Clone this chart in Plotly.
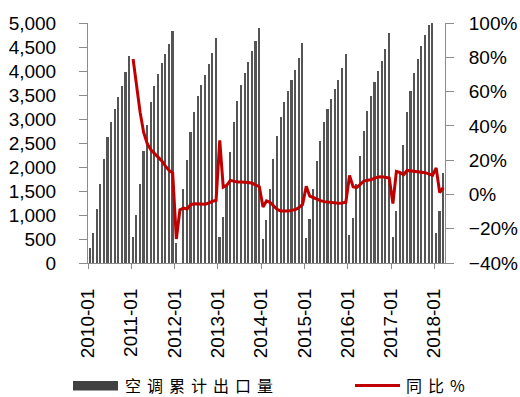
import plotly.graph_objects as go

# ---------------- data ----------------
years = [2010, 2011, 2012, 2013, 2014, 2015, 2016, 2017, 2018]
months = [f"{y}-{m:02d}-01" for y in years for m in range(1, 13)][:99]  # 2010-01 .. 2018-03

export_2010 = [304, 616, 1120, 1653, 2172, 2628, 2946, 3209, 3451, 3693, 3970, 4305]
export_2011 = [546, 990, 1655, 2324, 2885, 3361, 3692, 3937, 4165, 4355, 4560, 4840]
export_2012 = [410, None, 1549, 2137, 2722, 3140, 3486, 3714, 3918, 4146, 4382, 4693]
export_2013 = [546, 955, 1620, 2310, 2932, 3382, 3710, 3960, 4195, 4419, 4620, 4888]
export_2014 = [495, 905, 1549, 2172, 2640, 3050, 3355, 3589, 3815, 4030, 4267, 4575]
export_2015 = [515, 908, 1532, 2130, 2552, 2932, 3209, 3410, 3630, 3822, 4055, 4357]
export_2016 = [581, 940, 1653, 2235, 2760, 3174, 3486, 3762, 4004, 4212, 4454, 4786]
export_2017 = [540, 1075, 1880, 2465, 3140, 3589, 3960, 4255, 4515, 4745, 4960, 4990]
export_2018 = [616, 1075, 1874]
exports = (export_2010 + export_2011 + export_2012 + export_2013 + export_2014
           + export_2015 + export_2016 + export_2017 + export_2018)

yoy_2011 = [79, 63, 48, 36, 29.5, 26, 24, 22, 19.5, 16.5, 14, 12.5]
yoy_2012 = [-26, -9, -8, -8.5, -6, -5.5, -5.7, -5.8, -5.7, -5, -4, -3.5]
yoy_2013 = [31.5, 4.3, 5.3, 8.2, 7.6, 7.2, 7.2, 7.2, 7.0, 6.5, 5.5, 4.5]
yoy_2014 = [-7.3, -3.8, -4.6, -6.5, -8.8, -9.6, -9.7, -9.6, -9.3, -8.8, -7.7, -5.8]
yoy_2015 = [4.7, -1.0, -1.8, -2.8, -3.6, -4.2, -4.5, -4.8, -5.0, -5.1, -5.0, -4.6]
yoy_2016 = [11.0, 4.5, 4.0, 5.8, 7.8, 8.3, 8.6, 9.5, 10.2, 10.3, 10.0, 9.6]
yoy_2017 = [-5.3, 13.4, 12.8, 11.5, 14.0, 13.8, 13.6, 13.4, 13.0, 12.7, 12.0, 11.1]
yoy_2018 = [15.4, 1.1, 4.0]
yoy = (yoy_2011 + yoy_2012 + yoy_2013 + yoy_2014 + yoy_2015
       + yoy_2016 + yoy_2017 + yoy_2018)
yoy_months = months[12:]

bar_name = "空调累计出口量"
line_name = "同比%"

# ---------------- figure ----------------
W, H = 520, 397
L, R, T, B = 88, 445, 23, 263  # plot area in pixels

def px_x(p):
    return (p - L) / (R - L)

def px_y(p):
    return (B - p) / (B - T)

FONT = "Liberation Sans, Arial, sans-serif"
AX = "#8c8c8c"

fig = go.Figure()
fig.add_trace(go.Bar(
    x=months, y=exports, name=bar_name,
    xperiod="M1", xperiodalignment="middle",
    width=14 * 86400000,
    marker=dict(color="#555555", line=dict(width=0)),
    showlegend=False,
))
fig.add_trace(go.Scatter(
    x=yoy_months, y=yoy, name=line_name, yaxis="y2",
    xperiod="M1", xperiodalignment="middle",
    mode="lines", line=dict(color="#C00000", width=3),
    showlegend=False,
))

fig.update_layout(
    width=W, height=H,
    margin=dict(l=L, r=W - R, t=T, b=H - B, autoexpand=False),
    plot_bgcolor="white", paper_bgcolor="white",
    font=dict(family=FONT, size=19, color="#000000"),
    bargap=0,
    xaxis=dict(
        type="date", automargin=False,
        range=["2010-01-01", "2018-04-01"],
        tick0="2010-01-01", dtick="M12", tickformat="%Y-%m",
        tickangle=-90,
        showline=True, linecolor=AX, linewidth=1,
        ticks="outside", ticklen=5, tickcolor=AX,
        showgrid=False, zeroline=False,
        ticklabelstandoff=12,
        tickfont=dict(size=19),
    ),
    yaxis=dict(
        automargin=False,
        range=[0, 5000], dtick=500, tickformat=",d",
        showline=True, linecolor=AX, linewidth=1,
        ticks="outside", ticklen=8, tickcolor=AX,
        showgrid=False, zeroline=False,
        ticklabelstandoff=19,
    ),
    yaxis2=dict(
        automargin=False,
        overlaying="y", side="right",
        range=[-40, 100], dtick=20, ticksuffix="%",
        showline=True, linecolor=AX, linewidth=1,
        ticks="outside", ticklen=8, tickcolor=AX,
        showgrid=False, zeroline=False,
        ticklabelstandoff=11,
    ),
)

# custom legend (wide swatches like the reference)
legend_y = 385.5
spaced = '<span style="letter-spacing:6px">{}</span>'
fig.add_shape(type="rect", xref="paper", yref="paper",
              x0=px_x(73), x1=px_x(118), y0=px_y(381), y1=px_y(390.5),
              fillcolor="#404040", line=dict(width=0))
fig.add_annotation(xref="paper", yref="paper", x=px_x(123), y=px_y(legend_y),
                   text=spaced.format(bar_name), showarrow=False,
                   xanchor="left", yanchor="middle",
                   font=dict(family="Noto Sans CJK SC", size=16, color="#000000"))
fig.add_shape(type="line", xref="paper", yref="paper",
              x0=px_x(355), x1=px_x(400), y0=px_y(legend_y), y1=px_y(legend_y),
              line=dict(color="#C00000", width=3))
fig.add_annotation(xref="paper", yref="paper", x=px_x(404), y=px_y(legend_y),
                   text=spaced.format(line_name), showarrow=False,
                   xanchor="left", yanchor="middle",
                   font=dict(family="Noto Sans CJK SC", size=16, color="#000000"))

fig.write_html(
    "out.html",
    config={"displayModeBar": False},
    post_script="document.body.style.margin='0';document.body.style.overflow='hidden';",
)
